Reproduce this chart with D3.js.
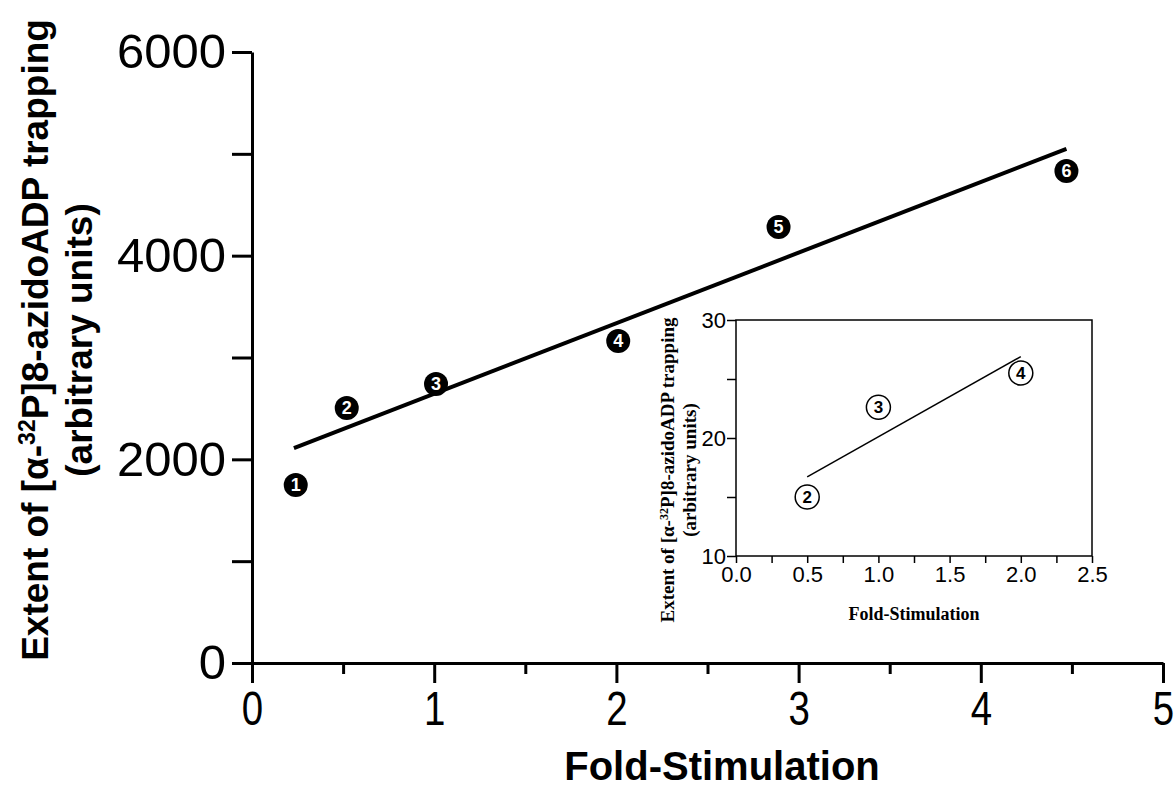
<!DOCTYPE html>
<html><head><meta charset="utf-8">
<script src="https://cdnjs.cloudflare.com/ajax/libs/d3/7.8.5/d3.min.js"></script>
<style>body{margin:0;background:#fff}svg{display:block}</style>
</head><body>
<svg id="c" width="1174" height="789"></svg>
<script>
// ---- data ----
const mainXTicks = [0, 1, 2, 3, 4, 5];
const mainXMinor = [0.5, 1.5, 2.5, 3.5, 4.5];
const mainYTicks = [0, 2000, 4000, 6000];
const mainYMinor = [1000, 3000, 5000];
const pointLabels = ["1", "2", "3", "4", "5", "6"];
const pointX = [0.24, 0.52, 1.01, 2.01, 2.89, 4.47];
const pointY = [1748, 2504, 2740, 3162, 4282, 4832];
const fitX = [0.23, 4.47];
const fitY = [2111, 5048];

const insetXTicks = [0.0, 0.5, 1.0, 1.5, 2.0, 2.5];
const insetXMinor = [0.25, 0.75, 1.25, 1.75, 2.25];
const insetYTicks = [10, 20, 30];
const insetYMinor = [15, 25];
const insetLabels = ["2", "3", "4"];
const insetX = [0.5, 1.0, 2.0];
const insetY = [15.0, 22.6, 25.5];
const insetFitX = [0.5, 2.0];
const insetFitY = [16.7, 26.9];

const xTitle = "Fold-Stimulation";
const yTitle1 = ["Extent of [α-", "32", "P]8-azidoADP trapping"];
const yTitle2 = "(arbitrary units)";

// ---- drawing ----
const svg = d3.select("#c");
const sans = "'Liberation Sans', Arial, Helvetica, sans-serif";
const serif = "'Liberation Serif', 'Times New Roman', serif";

const x = d3.scaleLinear().domain([0, 5]).range([252, 1163]);
const y = d3.scaleLinear().domain([0, 6000]).range([663, 52]);

// y axis
const gy = svg.append("g").attr("transform", `translate(${x(0)},0)`)
  .call(d3.axisLeft(y).tickValues(mainYTicks.concat(mainYMinor)).tickSize(20).tickSizeOuter(0)
    .tickPadding(6).tickFormat(d => mainYTicks.includes(d) ? d : ""));
gy.selectAll("path,line").attr("stroke", "#000").attr("stroke-width", 3);
gy.selectAll("text").attr("font-family", sans).attr("font-size", 49).attr("fill", "#000");

// x axis major
const gx = svg.append("g").attr("transform", `translate(0,${y(0)})`)
  .call(d3.axisBottom(x).tickValues(mainXTicks).tickSize(20).tickSizeOuter(0).tickPadding(8).tickFormat(d3.format("d")));
gx.selectAll("path,line").attr("stroke", "#000").attr("stroke-width", 3);
gx.selectAll("text").attr("font-family", sans).attr("font-size", 48).attr("fill", "#000")
  .attr("transform", "scale(0.8,1)");
const gxm = svg.append("g").attr("transform", `translate(0,${y(0)})`)
  .call(d3.axisBottom(x).tickValues(mainXMinor).tickSize(11).tickSizeOuter(0).tickFormat(""));
gxm.select("path").remove();
gxm.selectAll("line").attr("stroke", "#000").attr("stroke-width", 3);

// titles
svg.append("text").attr("x", 722).attr("y", 780).attr("text-anchor", "middle")
  .attr("font-family", sans).attr("font-weight", "bold").attr("font-size", 40).text(xTitle);

const yt = svg.append("g").attr("transform", "translate(0,340) rotate(-90)");
const t1 = yt.append("text").attr("x", 0).attr("y", 48).attr("text-anchor", "middle")
  .attr("font-family", sans).attr("font-weight", "bold").attr("font-size", 37);
t1.append("tspan").text(yTitle1[0]);
t1.append("tspan").attr("dy", -13).attr("font-size", 23).text(yTitle1[1]);
t1.append("tspan").attr("dy", 13).text(yTitle1[2]);
yt.append("text").attr("x", 0).attr("y", 92).attr("text-anchor", "middle")
  .attr("font-family", sans).attr("font-weight", "bold").attr("font-size", 37).text(yTitle2);

// fit line
svg.append("line")
  .attr("x1", x(fitX[0])).attr("y1", y(fitY[0])).attr("x2", x(fitX[1])).attr("y2", y(fitY[1]))
  .attr("stroke", "#000").attr("stroke-width", 4);

// points
const pts = svg.append("g").selectAll("g").data(pointLabels).join("g")
  .attr("transform", (d, i) => `translate(${x(pointX[i])},${y(pointY[i])})`);
pts.append("circle").attr("r", 12).attr("fill", "#000");
pts.append("text").attr("text-anchor", "middle").attr("dy", "0.36em")
  .attr("font-family", sans).attr("font-weight", "bold").attr("font-size", 18).attr("fill", "#fff").text(d => d);

// ---- inset ----
const ix = d3.scaleLinear().domain([0, 2.5]).range([736, 1092]);
const iy = d3.scaleLinear().domain([10, 30]).range([556, 320]);

svg.append("rect").attr("x", ix(0)).attr("y", iy(30)).attr("width", ix(2.5) - ix(0)).attr("height", iy(10) - iy(30))
  .attr("fill", "#fff").attr("stroke", "#000").attr("stroke-width", 1.5);

const giy = svg.append("g").attr("transform", `translate(${ix(0)},0)`)
  .call(d3.axisLeft(iy).tickValues(insetYTicks.concat(insetYMinor)).tickSize(9).tickSizeOuter(0).tickPadding(1)
    .tickFormat(d => insetYTicks.includes(d) ? d : ""));
giy.select("path").remove();
giy.selectAll("line").attr("stroke", "#000").attr("stroke-width", 1.5);
giy.selectAll("text").attr("font-family", sans).attr("font-size", 22).attr("fill", "#000");

const gix = svg.append("g").attr("transform", `translate(0,${iy(10)})`)
  .call(d3.axisBottom(ix).tickValues(insetXTicks.concat(insetXMinor)).tickSize(7).tickSizeOuter(0).tickPadding(3)
    .tickFormat(d => insetXTicks.includes(d) ? d3.format(".1f")(d) : ""));
gix.select("path").remove();
gix.selectAll("line").attr("stroke", "#000").attr("stroke-width", 1.5);
gix.selectAll("text").attr("font-family", sans).attr("font-size", 22).attr("fill", "#000");

svg.append("text").attr("x", 914).attr("y", 620).attr("text-anchor", "middle")
  .attr("font-family", serif).attr("font-weight", "bold").attr("font-size", 18).text(xTitle);

const iyt = svg.append("g").attr("transform", "translate(0,470) rotate(-90)");
const it1 = iyt.append("text").attr("x", 0).attr("y", 674).attr("text-anchor", "middle")
  .attr("font-family", serif).attr("font-weight", "bold").attr("font-size", 19);
it1.append("tspan").text(yTitle1[0]);
it1.append("tspan").attr("dy", -6).attr("font-size", 12).text(yTitle1[1]);
it1.append("tspan").attr("dy", 6).text(yTitle1[2]);
iyt.append("text").attr("x", 0).attr("y", 696).attr("text-anchor", "middle")
  .attr("font-family", serif).attr("font-weight", "bold").attr("font-size", 19).text(yTitle2);

svg.append("line")
  .attr("x1", ix(insetFitX[0])).attr("y1", iy(insetFitY[0])).attr("x2", ix(insetFitX[1])).attr("y2", iy(insetFitY[1]))
  .attr("stroke", "#000").attr("stroke-width", 1.5);

const ipts = svg.append("g").selectAll("g").data(insetLabels).join("g")
  .attr("transform", (d, i) => `translate(${ix(insetX[i])},${iy(insetY[i])})`);
ipts.append("circle").attr("r", 12).attr("fill", "#fff").attr("stroke", "#000").attr("stroke-width", 1.5);
ipts.append("text").attr("text-anchor", "middle").attr("dy", "0.36em")
  .attr("font-family", sans).attr("font-weight", "bold").attr("font-size", 17).attr("fill", "#000").text(d => d);
</script>
</body></html>
